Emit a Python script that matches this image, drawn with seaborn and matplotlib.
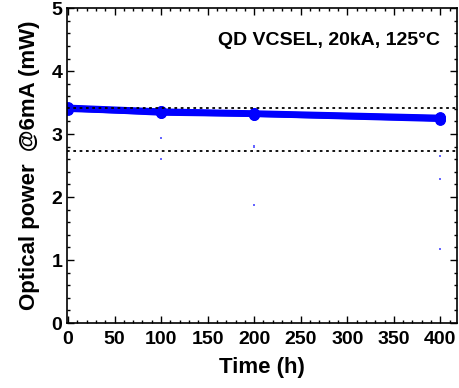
import matplotlib
matplotlib.use("Agg")
import matplotlib.pyplot as plt
import seaborn as sns
import pandas as pd
import numpy as np
from matplotlib.ticker import MultipleLocator

sns.set_theme(style="ticks")
plt.rcParams['font.family'] = ['Liberation Sans', 'DejaVu Sans']
plt.rcParams['font.weight'] = 'bold'
plt.rcParams['text.color'] = 'black'
plt.rcParams['axes.labelcolor'] = 'black'
plt.rcParams['xtick.color'] = 'black'
plt.rcParams['ytick.color'] = 'black'

time_h = [0, 100, 200, 400]
dev1 = [3.43, 3.37, 3.34, 3.27]
dev2 = [3.42, 3.36, 3.33, 3.26]
dev3 = [3.41, 3.35, 3.32, 3.25]
dev4 = [3.39, 3.34, 3.31, 3.24]
dev5 = [3.40, 3.33, 3.31, 3.23]
devices = {"D1": dev1, "D2": dev2, "D3": dev3, "D4": dev4, "D5": dev5}

stray_t = [100, 100, 200, 200, 200, 400, 400, 400]
stray_p = [2.94, 2.61, 2.81, 2.79, 1.88, 2.65, 2.28, 1.17]

ref_level = 3.42
fail_level = 0.8 * ref_level

rows = []
for name, vals in devices.items():
    for t, v in zip(time_h, vals):
        rows.append({"Time": t, "Power": v, "Device": name})
df = pd.DataFrame(rows)

fig = plt.figure(figsize=(4.59, 3.88), dpi=100)
ax = fig.add_axes([0.146, 0.1675, 0.85, 0.8115])

sns.lineplot(data=df, x="Time", y="Power", hue="Device",
             palette=["#0000ff"] * len(devices), lw=3.5, marker="o",
             markersize=7, markeredgecolor="#0000ff", legend=False, ax=ax)
ax.scatter(stray_t, stray_p, s=2, color="#6666ff", marker="s", linewidths=0)

ax.axhline(ref_level, color="black", ls=(0, (1.5, 2)), lw=1.3)
ax.axhline(fail_level, color="black", ls=(0, (1.5, 2)), lw=1.3)

ax.set_xlim(-1, 418)
ax.set_ylim(0, 5)
ax.xaxis.set_major_locator(MultipleLocator(50))
ax.xaxis.set_minor_locator(MultipleLocator(10))
ax.yaxis.set_major_locator(MultipleLocator(1))
ax.yaxis.set_minor_locator(MultipleLocator(0.2))
ax.tick_params(which="both", direction="in", top=True, right=True,
               labelsize=14, width=1)
ax.tick_params(axis="x", which="major", pad=6)
ax.tick_params(which="major", length=5)
ax.tick_params(which="minor", length=2.5)
for lab in ax.get_xticklabels() + ax.get_yticklabels():
    lab.set_fontweight("bold")
for s in ax.spines.values():
    s.set_linewidth(1.2)
    s.set_color("black")

ax.set_xlabel("Time (h)", fontsize=16, fontweight="bold", labelpad=6)
ax.set_ylabel("Optical power  @6mA (mW)", fontsize=16, fontweight="bold",
              labelpad=8)
ax.text(0.956, 0.898, "QD VCSEL, 20kA, 125°C", transform=ax.transAxes,
        ha="right", va="center", fontsize=14, fontweight="bold")

fig.savefig("out.png", dpi=100)
